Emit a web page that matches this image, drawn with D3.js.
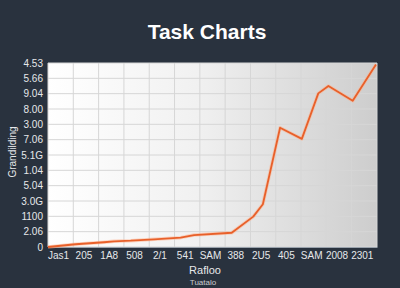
<!DOCTYPE html>
<html><head><meta charset="utf-8">
<script src="https://cdn.jsdelivr.net/npm/d3@7"></script>
<style>html,body{margin:0;padding:0;background:#29323e;}svg{display:block;}</style>
</head><body>
<script>
const title = "Task Charts";
const xTitle = "Rafloo";
const xSubTitle = "Tuatalo";
const yTitle = "Grandilding";
const xTickLabels = ["Jas1","205","1A8","508","2/1","541","SAM","388","2U5","405","SAM","2008","2301"];
const yTickLabels = ["0","2.06","1100","3.0G","5.04","1.04","5.1G","7.06","3.00","8.00","9.04","5.66","4.53"];
const xValues = [0, 1.09, 2.21, 2.61, 3.27, 4.19, 5.24, 5.77, 7.26, 8.11, 8.49, 9.17, 10.03, 10.68, 11.08, 12.04, 12.96];
const yValues = [0, 0.18, 0.31, 0.37, 0.41, 0.50, 0.61, 0.78, 0.93, 1.98, 2.79, 7.78, 7.05, 10.02, 10.5, 9.54, 11.9];

const W = 400, H = 288;
const m = {left:48, right:23, top:63, bottom:41};
const svg = d3.select("body").append("svg").attr("width", W).attr("height", H);
svg.append("rect").attr("width", W).attr("height", H).attr("fill", "#29323e");

const defs = svg.append("defs");
const g1 = defs.append("linearGradient").attr("id","bg").attr("x1","0").attr("x2","1").attr("y1","0").attr("y2","0");
g1.append("stop").attr("offset","0").attr("stop-color","#ffffff");
g1.append("stop").attr("offset","0.45").attr("stop-color","#f1f1f1");
g1.append("stop").attr("offset","1").attr("stop-color","#cdcdcd");

const iw = W - m.left - m.right, ih = H - m.top - m.bottom;
const x = d3.scaleLinear().domain([0, 13]).range([m.left, m.left + iw]);
const y = d3.scaleLinear().domain([0, 12]).range([m.top + ih, m.top]);

svg.append("rect").attr("x", m.left).attr("y", m.top).attr("width", iw).attr("height", ih)
  .attr("fill", "url(#bg)");

// grid
const gridX = d3.range(0, 14);
const gridY = d3.range(0, 13);
svg.append("g").selectAll("line").data(gridX).join("line")
  .attr("x1", d => x(d)).attr("x2", d => x(d)).attr("y1", m.top).attr("y2", m.top + ih)
  .attr("stroke", "#d6d6d6").attr("stroke-width", 1);
svg.append("g").selectAll("line").data(gridY).join("line")
  .attr("y1", d => y(d)).attr("y2", d => y(d)).attr("x1", m.left).attr("x2", m.left + iw)
  .attr("stroke", "#d6d6d6").attr("stroke-width", 1);

// axes
const xAxis = d3.axisBottom(x).tickValues(d3.range(13).map(i => i + 0.4))
  .tickFormat((d, i) => xTickLabels[i]).tickSize(0).tickPadding(5);
const gx = svg.append("g").attr("transform", `translate(0,${m.top + ih})`).call(xAxis);
gx.select(".domain").attr("stroke", "#9aa3ad");
gx.selectAll("text").attr("fill", "#e6e8ea").attr("font-family", "Liberation Sans, Arial, sans-serif").attr("font-size", 10);

const yAxis = d3.axisLeft(y).tickValues(d3.range(13))
  .tickFormat((d, i) => yTickLabels[i]).tickSize(0).tickPadding(5);
const gy = svg.append("g").attr("transform", `translate(${m.left},0)`).call(yAxis);
gy.select(".domain").remove();
gy.selectAll("text").attr("fill", "#e6e8ea").attr("font-family", "Liberation Sans, Arial, sans-serif").attr("font-size", 10);

// line
const line = d3.line().x((d, i) => x(xValues[i])).y((d, i) => y(d));
svg.append("path").datum(yValues).attr("d", line)
  .attr("fill", "none").attr("stroke", "#ffb08a").attr("stroke-width", 3.5).attr("opacity", 0.5)
  .attr("stroke-linejoin", "round");
svg.append("path").datum(yValues).attr("d", line)
  .attr("fill", "none").attr("stroke", "#e8602a").attr("stroke-width", 1.8)
  .attr("stroke-linejoin", "round");

// titles
svg.append("text").attr("x", 207).attr("y", 39).attr("text-anchor", "middle")
  .attr("fill", "#ffffff").attr("font-family", "Liberation Sans, Arial, sans-serif")
  .attr("font-weight", "bold").attr("font-size", 21).text(title);
svg.append("text").attr("x", 205).attr("y", 274).attr("text-anchor", "middle")
  .attr("fill", "#e6e8ea").attr("font-family", "Liberation Sans, Arial, sans-serif")
  .attr("font-size", 11).text(xTitle);
svg.append("text").attr("x", 203).attr("y", 285).attr("text-anchor", "middle")
  .attr("fill", "#c9ccd0").attr("font-family", "Liberation Sans, Arial, sans-serif")
  .attr("font-size", 8).text(xSubTitle);
svg.append("text").attr("transform", "translate(16,152) rotate(-90)").attr("text-anchor", "middle")
  .attr("fill", "#e6e8ea").attr("font-family", "Liberation Sans, Arial, sans-serif")
  .attr("font-size", 10).text(yTitle);
</script>
</body></html>
